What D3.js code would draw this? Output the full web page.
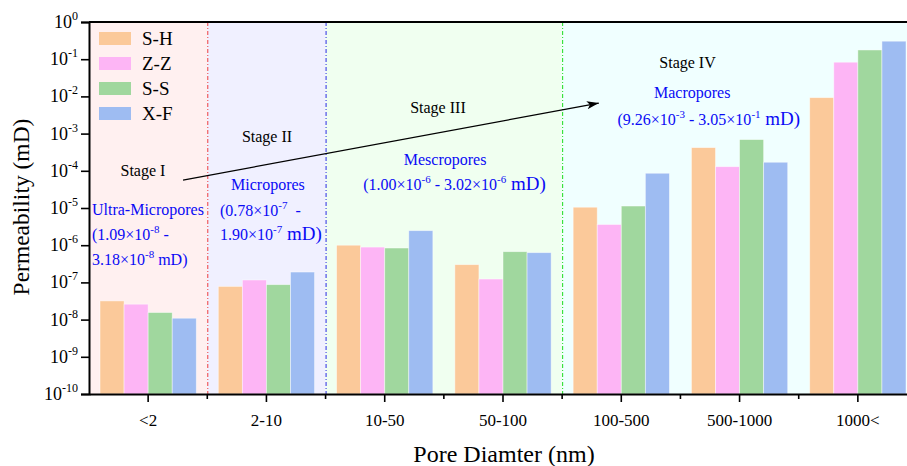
<!DOCTYPE html>
<html>
<head>
<meta charset="utf-8">
<script src="https://cdn.jsdelivr.net/npm/d3@7"></script>
<style>
  html, body { margin: 0; padding: 0; background: #fff; }
  svg { display: block; font-family: "Liberation Serif", "Times New Roman", serif; }
</style>
</head>
<body>
<div id="chart"></div>
<script>
(function drawChart() {
  const categories = ['<2', '2-10', '10-50', '50-100', '100-500', '500-1000', '1000<'];
  const seriesNames = ['S-H', 'Z-Z', 'S-S', 'X-F'];
  const shValues = [3.18e-8, 7.8e-8, 1.0e-6, 3.0e-7, 1.05e-5, 4.2e-4, 9.26e-3];
  const zzValues = [2.6e-8, 1.16e-7, 8.9e-7, 1.23e-7, 3.6e-6, 1.29e-4, 8.3e-2];
  const ssValues = [1.55e-8, 8.7e-8, 8.4e-7, 6.7e-7, 1.13e-5, 6.9e-4, 1.77e-1];
  const xfValues = [1.09e-8, 1.90e-7, 2.46e-6, 6.3e-7, 8.6e-5, 1.7e-4, 3.05e-1];
  const yTickExponents = [0, -1, -2, -3, -4, -5, -6, -7, -8, -9, -10];

  // stage spans in category units
  const stageStarts = [0, 1, 2, 4];
  const stageEnds = [1, 2, 4, 7];

  const colors = ['#FBC99A', '#FDB5F5', '#A0D79E', '#9EBCF2'];
  const stageFills = ['#FFF0F0', '#F0F0FF', '#F0FFF0', '#F0FFFF'];
  const stageLines = ['#F03C3C', '#2828E6', '#1EDC1E'];
  const noteColor = '#0A0AF5';

  const width = 907, height = 466;
  const margin = { top: 22, left: 89, bottom: 72 };
  const plotRight = 917; // plot runs past the window edge

  const svg = d3.select('#chart').append('svg')
    .attr('width', width).attr('height', height);

  const x = d3.scaleBand()
    .domain(categories)
    .range([margin.left, plotRight]);

  const xUnit = d3.scaleLinear().domain([0, categories.length]).range([margin.left, plotRight]);

  const xInner = d3.scaleBand()
    .domain(seriesNames)
    .range([11, x.bandwidth() - 11]);

  const y = d3.scaleLog()
    .domain([1e-10, 1])
    .range([height - margin.bottom, margin.top]);

  const yL = e => y(Math.pow(10, e));

  // stage backgrounds
  svg.append('g').selectAll('rect')
    .data(stageStarts)
    .join('rect')
    .attr('x', (d) => xUnit(d))
    .attr('width', (d, i) => xUnit(stageEnds[i]) - xUnit(d))
    .attr('y', margin.top)
    .attr('height', y(1e-10) - margin.top)
    .attr('fill', (d, i) => stageFills[i]);

  // bars
  const allSeries = [shValues, zzValues, ssValues, xfValues];
  const rows = [];
  categories.forEach((c, ci) => {
    seriesNames.forEach((s, si) => rows.push({ c, s, si, v: allSeries[si][ci] }));
  });

  svg.append('g').selectAll('rect')
    .data(rows)
    .join('rect')
    .attr('x', d => x(d.c) + xInner(d.s))
    .attr('width', xInner.bandwidth())
    .attr('y', d => y(d.v))
    .attr('height', d => y(1e-10) - y(d.v))
    .attr('fill', d => colors[d.si])
    .attr('stroke', 'rgba(255,255,255,0.55)')
    .attr('stroke-width', 0.8);

  // stage divider lines
  svg.append('g').selectAll('line')
    .data(stageEnds.slice(0, 3))
    .join('line')
    .attr('x1', d => xUnit(d) + 0.5).attr('x2', d => xUnit(d) + 0.5)
    .attr('y1', margin.top).attr('y2', y(1e-10))
    .attr('stroke', (d, i) => stageLines[i])
    .attr('stroke-width', 1)
    .attr('stroke-dasharray', '4,2,1,2');

  // axes
  const yAxis = d3.axisLeft(y)
    .tickValues(yTickExponents.map(e => Math.pow(10, e)))
    .tickSize(8)
    .tickFormat('');
  const gy = svg.append('g')
    .attr('transform', `translate(${margin.left},0)`)
    .call(yAxis);
  gy.select('.domain').attr('stroke', '#000').attr('stroke-width', 2);
  gy.selectAll('.tick line').attr('stroke', '#000').attr('stroke-width', 1.6);

  const yLabels = svg.append('g');
  yTickExponents.forEach(e => {
    const t = yLabels.append('text')
      .attr('x', 78)
      .attr('y', yL(e) + 6)
      .attr('text-anchor', 'end')
      .attr('font-size', 18)
      .attr('fill', '#000');
    t.append('tspan').text('10');
    t.append('tspan').attr('dy', -8).attr('font-size', 12).text(String(e));
  });

  // x axis
  const gx = svg.append('g')
    .attr('transform', `translate(0,${y(1e-10)})`)
    .call(d3.axisBottom(x).tickSize(8).tickSizeOuter(0).tickFormat(''));
  gx.select('.domain').attr('stroke', '#000').attr('stroke-width', 2);
  gx.selectAll('.tick line').attr('stroke', '#000').attr('stroke-width', 1.6);

  svg.append('g').selectAll('line')
    .data(d3.range(1, categories.length + 1))
    .join('line')
    .attr('x1', d => xUnit(d)).attr('x2', d => xUnit(d))
    .attr('y1', y(1e-10)).attr('y2', y(1e-10) + 5)
    .attr('stroke', '#000').attr('stroke-width', 1.6);

  svg.append('g').selectAll('text')
    .data(categories)
    .join('text')
    .attr('x', d => x(d) + x.bandwidth() / 2)
    .attr('y', y(1e-10) + 32)
    .attr('text-anchor', 'middle')
    .attr('font-size', 17)
    .text(d => d);

  // top frame
  svg.append('line')
    .attr('x1', margin.left).attr('x2', plotRight)
    .attr('y1', margin.top).attr('y2', margin.top)
    .attr('stroke', '#000').attr('stroke-width', 2);

  // axis titles
  svg.append('text')
    .attr('x', 504).attr('y', 462)
    .attr('text-anchor', 'middle')
    .attr('font-size', 24)
    .text('Pore Diamter (nm)');

  svg.append('text')
    .attr('transform', `translate(29,${(margin.top + y(1e-10)) / 2 - 1}) rotate(-90)`)
    .attr('text-anchor', 'middle')
    .attr('font-size', 23.5)
    .text('Permeability (mD)');

  // legend
  const legend = svg.append('g');
  seriesNames.forEach((s, i) => {
    legend.append('rect')
      .attr('x', 99).attr('y', 32 + i * 25)
      .attr('width', 32).attr('height', 13)
      .attr('fill', colors[i]);
    legend.append('text')
      .attr('x', 142).attr('y', 45 + i * 25)
      .attr('font-size', 19)
      .text(s);
  });

  // trend arrow (in category units / log10 permeability)
  const arrowFrom = [0.795, -4.25];
  const arrowTo = [4.31, -2.18];
  svg.append('defs').append('marker')
    .attr('id', 'arrowhead')
    .attr('viewBox', '0 0 12 8')
    .attr('refX', 12).attr('refY', 4)
    .attr('markerWidth', 13).attr('markerHeight', 8)
    .attr('markerUnits', 'userSpaceOnUse')
    .attr('orient', 'auto')
    .append('path')
    .attr('d', 'M0,0 L12,4 L0,8 L3,4 Z')
    .attr('fill', '#000');
  svg.append('line')
    .attr('x1', xUnit(arrowFrom[0])).attr('y1', yL(arrowFrom[1]))
    .attr('x2', xUnit(arrowTo[0])).attr('y2', yL(arrowTo[1]))
    .attr('stroke', '#000').attr('stroke-width', 1.3)
    .attr('marker-end', 'url(#arrowhead)');

  // stage labels
  const stageNames = ['Stage I', 'Stage II', 'Stage III', 'Stage IV'];
  const stageLabelAt = [[0.456, -4.14], [1.505, -3.23], [2.95, -2.45], [5.06, -1.24]];
  svg.append('g').selectAll('text')
    .data(stageNames)
    .join('text')
    .attr('x', (d, i) => xUnit(stageLabelAt[i][0]))
    .attr('y', (d, i) => yL(stageLabelAt[i][1]))
    .attr('text-anchor', 'middle')
    .attr('font-size', 16)
    .text(d => d);

  // pore-class notes: each part is [text, superscript?]
  const notes = [
    { at: [0.025, -5.19], anchor: 'start', parts: [['Ultra-Micropores']] },
    { at: [0.025, -5.86], anchor: 'start', parts: [['(1.09×10'], ['-8', 1], [' -']] },
    { at: [0.025, -6.53], anchor: 'start', parts: [['3.18×10'], ['-8', 1], [' mD)']] },
    { at: [1.513, -4.52], anchor: 'middle', parts: [['Micropores']] },
    { at: [1.107, -5.22], anchor: 'start', parts: [['(0.78×10'], ['-7', 1], ['  -']] },
    { at: [1.107, -5.86], anchor: 'start', parts: [['1.90×10'], ['-7', 1], [' mD)', 2]] },
    { at: [3.01, -3.84], anchor: 'middle', parts: [['Mescropores']] },
    { at: [3.09, -4.52], anchor: 'middle', parts: [['(1.00×10'], ['-6', 1], [' - 3.02×10'], ['-6', 1], [' mD)', 2]] },
    { at: [5.10, -2.04], anchor: 'middle', parts: [['Macropores']] },
    { at: [5.24, -2.77], anchor: 'middle', parts: [['(9.26×10'], ['-3', 1], [' - 3.05×10'], ['-1', 1], [' mD)', 2]] }
  ];
  const gNotes = svg.append('g').attr('fill', noteColor);
  notes.forEach(n => {
    const t = gNotes.append('text')
      .attr('x', xUnit(n.at[0]))
      .attr('y', yL(n.at[1]))
      .attr('text-anchor', n.anchor)
      .attr('font-size', 16)
      .attr('xml:space', 'preserve')
      .style('white-space', 'pre');
    let raised = false;
    n.parts.forEach(p => {
      const ts = t.append('tspan').text(p[0]);
      if (p[1] === 1) {
        ts.attr('font-size', 11).attr('dy', -7);
        raised = true;
      } else {
        if (raised) { ts.attr('dy', 7); raised = false; }
        if (p[1] === 2) ts.attr('font-size', 19);
      }
    });
  });
})();
</script>
</body>
</html>
